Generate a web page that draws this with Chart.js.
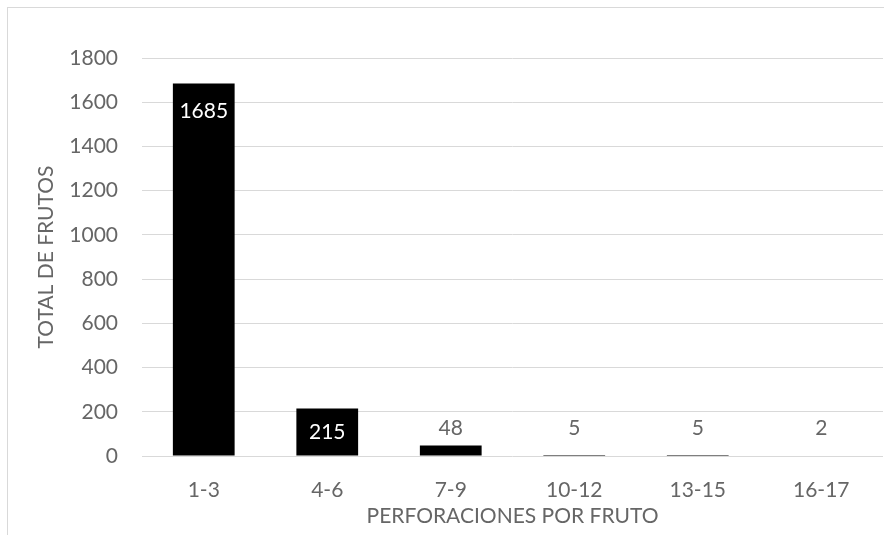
<!DOCTYPE html>
<html>
<head>
<meta charset="utf-8">
<script src="https://cdn.jsdelivr.net/npm/chart.js@4"></script>
<style>
    html, body { margin: 0; padding: 0; background: #ffffff; }
    #frame {
        position: absolute;
        left: 7px;
        top: 7px;
        width: 920px;
        height: 600px;
        border: 1px solid #d9d9d9;
    }
    #wrap {
        position: absolute;
        left: 0;
        top: 0;
        width: 884px;
        height: 535px;
    }
</style>
</head>
<body>
<div id="frame"></div>
<div id="wrap"><canvas id="frutosChart" width="884" height="535"></canvas></div>
<script>
// Frutos contados según número de perforaciones
const categorias = ['1-3', '4-6', '7-9', '10-12', '13-15', '16-17'];
const totalFrutos = [1685, 215, 48, 5, 5, 2];
const ticksY = [0, 200, 400, 600, 800, 1000, 1200, 1400, 1600, 1800];

const textColor = '#666666';
const fontFamily = "Lato, 'Open Sans', sans-serif";

// Etiquetas de valor: blancas dentro de las barras grandes, grises encima de las pequeñas
const etiquetasPlugin = {
    id: 'etiquetas',
    afterDatasetsDraw(chart) {
        const ctx = chart.ctx;
        const yScale = chart.scales.y;
        const meta = chart.getDatasetMeta(0);
        ctx.save();
        ctx.font = '21px ' + fontFamily;
        ctx.textAlign = 'center';
        ctx.textBaseline = 'middle';
        meta.data.forEach((bar, i) => {
            const valor = totalFrutos[i];
            const alto = bar.base - bar.y;
            if (alto > 40) {
                ctx.fillStyle = '#ffffff';
                ctx.fillText(String(valor), bar.x, bar.y + Math.min(28, alto / 2));
            } else {
                ctx.fillStyle = textColor;
                const tope = Math.min(bar.y, yScale.getPixelForValue(60));
                ctx.fillText(String(valor), bar.x, tope - 14);
            }
        });
        ctx.restore();
    }
};

const ctx = document.getElementById('frutosChart').getContext('2d');
new Chart(ctx, {
    type: 'bar',
    data: {
        labels: categorias,
        datasets: [{
            data: totalFrutos,
            backgroundColor: '#000000',
            borderWidth: 0,
            barPercentage: 0.5,
            categoryPercentage: 1.0
        }]
    },
    options: {
        responsive: false,
        animation: false,
        layout: { padding: { left: 0, right: 1, top: 58, bottom: 0 } },
        plugins: {
            legend: { display: false },
            tooltip: { enabled: false }
        },
        scales: {
            x: {
                grid: { display: false, drawTicks: false },
                border: { display: false },
                ticks: {
                    color: textColor,
                    font: { family: fontFamily, size: 21 },
                    padding: 22,
                    maxRotation: 0
                },
                title: {
                    display: true,
                    text: 'PERFORACIONES POR FRUTO',
                    color: textColor,
                    font: { family: fontFamily, size: 21 },
                    padding: { top: 0, bottom: 6 }
                },
                afterFit(scale) { scale.height = 79; }
            },
            y: {
                min: 0,
                max: 1800,
                afterBuildTicks(scale) {
                    scale.ticks = ticksY.map(v => ({ value: v }));
                },
                grid: { color: '#d9d9d9', lineWidth: 1, drawTicks: false },
                border: { display: false },
                ticks: {
                    color: textColor,
                    font: { family: fontFamily, size: 21 },
                    padding: 24,
                    callback: (v) => String(v)
                },
                title: {
                    display: true,
                    text: 'TOTAL DE FRUTOS',
                    color: textColor,
                    font: { family: fontFamily, size: 21 },
                    padding: { top: 34, bottom: 0 }
                },
                afterFit(scale) { scale.width = 142; }
            }
        }
    },
    plugins: [etiquetasPlugin]
});
</script>
</body>
</html>
